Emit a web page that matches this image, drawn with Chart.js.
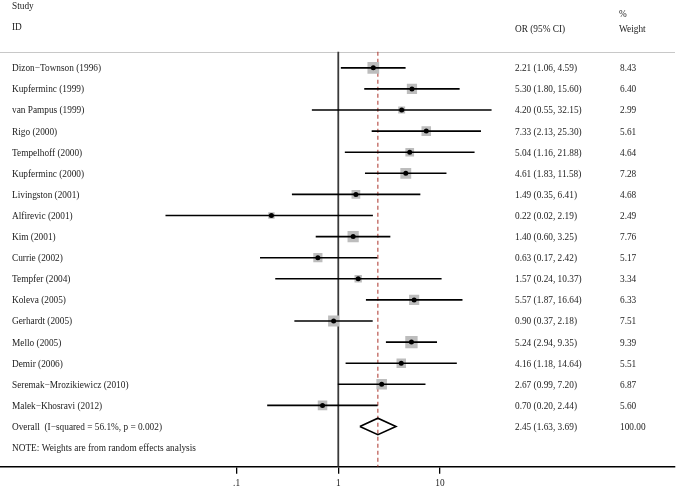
<!DOCTYPE html>
<html>
<head>
<meta charset="utf-8">
<script src="https://cdn.jsdelivr.net/npm/chart.js@4"></script>
<style>
  body { margin: 0; background: #fff; }
  #wrap { width: 678px; height: 489px; }
</style>
</head>
<body>
<div id="wrap"><canvas id="forest" width="678" height="489"></canvas></div>
<script>
// study data
const studies = ['Dizon\u2212Townson (1996)', 'Kupferminc (1999)', 'van Pampus (1999)', 'Rigo (2000)',
  'Tempelhoff (2000)', 'Kupferminc (2000)', 'Livingston (2001)', 'Alfirevic (2001)', 'Kim (2001)',
  'Currie (2002)', 'Tempfer (2004)', 'Koleva (2005)', 'Gerhardt (2005)', 'Mello (2005)',
  'Demir (2006)', 'Seremak\u2212Mrozikiewicz (2010)', 'Malek\u2212Khosravi (2012)'];
const oddsRatio = [2.21, 5.30, 4.20, 7.33, 5.04, 4.61, 1.49, 0.22, 1.40, 0.63, 1.57, 5.57, 0.90, 5.24, 4.16, 2.67, 0.70];
const ciLower = [1.06, 1.80, 0.55, 2.13, 1.16, 1.83, 0.35, 0.02, 0.60, 0.17, 0.24, 1.87, 0.37, 2.94, 1.18, 0.99, 0.20];
const ciUpper = [4.59, 15.60, 32.15, 25.30, 21.88, 11.58, 6.41, 2.19, 3.25, 2.42, 10.37, 16.64, 2.18, 9.35, 14.64, 7.20, 2.44];
const weights = [8.43, 6.40, 2.99, 5.61, 4.64, 7.28, 4.68, 2.49, 7.76, 5.17, 3.34, 6.33, 7.51, 9.39, 5.51, 6.87, 5.60];

const overallLabel = 'Overall  (I\u2212squared = 56.1%, p = 0.002)';
const overallOR = 2.45;
const overallLower = 1.63;
const overallUpper = 3.69;
const overallWeight = 100.00;
const noteText = 'NOTE: Weights are from random effects analysis';

const tickValues = [0.1, 1, 10];
const tickLabels = ['.1', '1', '10'];

// layout bits
const FONT = '"Liberation Serif", "Times New Roman", "DejaVu Serif", serif';
const TEXT_COLOR = '#1c1c1c';
const overallRow = studies.length;
const headerRule = -0.76;
const yTop = -3.215, yBottom = 18.913;

const fmt = v => v.toFixed(2);

let datasets = [];

// black centre dots
datasets.push({
  data: oddsRatio.map((v, i) => ({ x: v, y: i })),
  pointRadius: 2.5,
  pointBackgroundColor: '#000',
  pointBorderWidth: 0,
  showLine: false
});

// overall diamond
datasets.push({
  data: [
    { x: overallLower, y: overallRow },
    { x: overallOR, y: overallRow - 0.39 },
    { x: overallUpper, y: overallRow },
    { x: overallOR, y: overallRow + 0.39 },
    { x: overallLower, y: overallRow }
  ],
  showLine: true,
  borderColor: '#000',
  borderWidth: 1.6,
  pointRadius: 0,
  fill: false
});

// confidence intervals
studies.forEach((s, i) => {
  datasets.push({
    data: [{ x: ciLower[i], y: i }, { x: ciUpper[i], y: i }],
    showLine: true,
    borderColor: '#000',
    borderWidth: 1.6,
    pointRadius: 0
  });
});

// weight squares
datasets.push({
  data: oddsRatio.map((v, i) => ({ x: v, y: i })),
  pointStyle: 'rect',
  pointRadius: ctx => 2.85 * Math.sqrt(weights[ctx.dataIndex] || 0),
  pointBackgroundColor: '#bdbdbd',
  pointBorderWidth: 0,
  showLine: false
});

// line of no effect
datasets.push({
  data: [{ x: 1, y: headerRule }, { x: 1, y: yBottom }],
  showLine: true,
  borderColor: '#3a3a3a',
  borderWidth: 1.8,
  pointRadius: 0
});

// pooled estimate line
datasets.push({
  data: [{ x: overallOR, y: headerRule }, { x: overallOR, y: yBottom }],
  showLine: true,
  borderColor: '#b3443c',
  borderWidth: 1.1,
  borderDash: [4, 3],
  pointRadius: 0
});

const textPlugin = {
  id: 'forestText',
  beforeDatasetsDraw(chart) {
    const c = chart.ctx, area = chart.chartArea, y = chart.scales.y;
    const py = Math.round(y.getPixelForValue(headerRule)) + 0.5;
    c.save();
    c.strokeStyle = '#c8c8c8';
    c.lineWidth = 1;
    c.beginPath();
    c.moveTo(area.left, py);
    c.lineTo(area.right, py);
    c.stroke();
    c.restore();
  },
  afterDraw(chart) {
    const c = chart.ctx, y = chart.scales.y;
    c.save();
    c.fillStyle = TEXT_COLOR;
    c.font = '9.3px ' + FONT;
    c.textBaseline = 'middle';
    c.textAlign = 'left';
    // headers
    c.fillText('Study', 12, 7);
    c.fillText('ID', 12, 28);
    c.fillText('%', 619, 15);
    c.fillText('OR (95% CI)', 515, 30);
    c.fillText('Weight', 619, 30);
    // rows
    studies.forEach((s, i) => {
      const py = y.getPixelForValue(i) + 1;
      c.fillText(s, 12, py);
      c.fillText(fmt(oddsRatio[i]) + ' (' + fmt(ciLower[i]) + ', ' + fmt(ciUpper[i]) + ')', 515, py);
      c.fillText(fmt(weights[i]), 620, py);
    });
    const po = y.getPixelForValue(overallRow) + 1;
    c.fillText(overallLabel, 12, po);
    c.fillText(fmt(overallOR) + ' (' + fmt(overallLower) + ', ' + fmt(overallUpper) + ')', 515, po);
    c.fillText(fmt(overallWeight), 620, po);
    c.fillText(noteText, 12, y.getPixelForValue(overallRow + 1) + 1);
    c.restore();
  }
};

new Chart(document.getElementById('forest'), {
  type: 'scatter',
  data: { datasets: datasets },
  options: {
    responsive: false,
    animation: false,
    layout: { autoPadding: false, padding: { left: 0, right: 3, top: 0, bottom: -4 } },
    plugins: { legend: { display: false }, tooltip: { enabled: false } },
    scales: {
      x: {
        type: 'logarithmic',
        bounds: 'data',
        min: 0.000472,
        max: 2045,
        border: { display: true, color: '#000', width: 1.5 },
        grid: { drawOnChartArea: false, drawTicks: true, tickLength: 7, color: '#000', lineWidth: 1.3 },
        afterBuildTicks: scale => { scale.ticks = tickValues.map(v => ({ value: v })); },
        ticks: {
          autoSkip: false,
          maxRotation: 0,
          padding: 4,
          color: TEXT_COLOR,
          font: { family: FONT, size: 9.3 },
          callback: v => tickLabels[tickValues.indexOf(v)]
        }
      },
      y: {
        type: 'linear',
        display: false,
        reverse: true,
        bounds: 'data',
        min: yTop,
        max: yBottom
      }
    }
  },
  plugins: [textPlugin]
});
</script>
</body>
</html>
